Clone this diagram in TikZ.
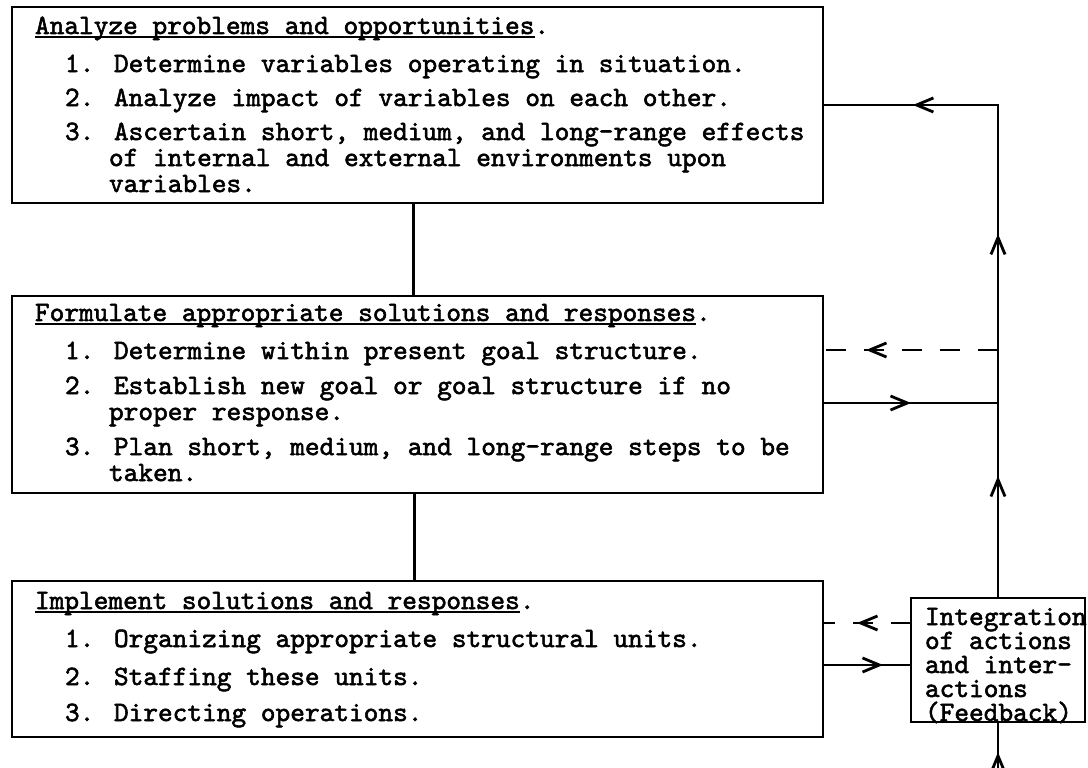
\documentclass[tikz,border=0pt]{standalone}
\usepackage{fontspec}
\newfontfamily\typefont{lmmono10-regular}[Extension=.otf,FakeBold=2.0]
\usetikzlibrary{arrows.meta,decorations.markings}

\newlength\px \setlength\px{0.025cm}
\newsavebox\headbox
\newcommand\headline[1]{\sbox\headbox{#1}\rlap{\rule[-4\px]{\wd\headbox}{2.2\px}}\usebox\headbox}
\newcommand\stagetext[4]{\parbox[c][#2\px][t]{#1\px}{\raggedright\leftskip=23\px\lineskiplimit=-100pt
  \rule{0pt}{#3\px}#4}}
\newcommand\itemline[2][9]{\\[#1\px]\hspace*{30\px}#2}
\newcommand\moreline[1]{\\\hspace*{74\px}#1}

\begin{document}
\begin{tikzpicture}[x=0.025cm,y=-0.025cm,
  stage/.style={draw,line width=1.8pt,inner sep=0pt,outer sep=0pt,anchor=north west,
    font=\fontsize{19.9}{18.5}\selectfont\typefont},
  link/.style={line width=1.8pt},
  back/.style={link,dash pattern=on 14pt off 13pt},
  fbarb/.tip={Straight Barb[length=12pt,width=10pt,line width=2pt]}]
\useasboundingbox (0,0) rectangle (1088,768);
% the three stages
\node [stage] (analyze) at (12,7) {\stagetext{811}{196}{27}{%
  \headline{Analyze problems and opportunities}.
  \itemline[12]{1. Determine variables operating in situation.}
  \itemline[8]{2. Analyze impact of variables on each other.}
  \itemline[8]{3. Ascertain short, medium, and long-range effects}
  \moreline{of internal and external environments upon}
  \moreline{variables.}}};
\node [stage] (formulate) at (12,296) {\stagetext{811}{197}{25}{%
  \headline{Formulate appropriate solutions and responses}.
  \itemline[12]{1. Determine within present goal structure.}
  \itemline{2. Establish new goal or goal structure if no}
  \moreline{proper response.}
  \itemline{3. Plan short, medium, and long-range steps to be}
  \moreline{taken.}}};
\node [stage] (implement) at (12,581) {\stagetext{811}{156}{28}{%
  \headline{Implement solutions and responses}.
  \itemline[12]{1. Organizing appropriate structural units.}
  \itemline[12]{2. Staffing these units.}
  \itemline[10]{3. Directing operations.}}};
% feedback box
\node [stage] (integration) at (911,598) {\parbox[c][124\px][t]{174\px}{%
  \leftskip=14\px\baselineskip=24\px\lineskiplimit=-100pt
  \rule{0pt}{27\px}Integration\\of actions\\and inter-\\actions\\(Feedback)}};

\coordinate (fbtop) at (integration.north |- analyze.east);
\coordinate (retB) at (integration.north |- 0,350);
\coordinate (outB) at (integration.north |- 0,403);
\coordinate (retC) at (integration.west |- 0,623);
\coordinate (outC) at (integration.west |- 0,665);
\coordinate (fbin) at (integration.south |- 0,775);

\draw [link] ([xshift=-4\px]analyze.south) -- ([xshift=-4\px]formulate.north);
\draw [link] ([xshift=-3\px]formulate.south) -- ([xshift=-3\px]implement.north);

% feedback loop
\draw [link,postaction=decorate,decoration={markings,
    mark=at position 3.05cm with {\arrow{fbarb}},
    mark=at position 9.1cm with {\arrow{fbarb}},
    mark=at position 14.45cm with {\arrow{fbarb}}}]
  (integration.north) -- (fbtop) -- (analyze.east);
\draw [link,postaction=decorate,decoration={markings,
    mark=at position 2.2cm with {\arrow{fbarb}}}]
  (outB -| formulate.east) -- (outB);
\draw [back,postaction=decorate,decoration={markings,
    mark=at position 3.3cm with {\arrow{fbarb}}}]
  (retB) -- (retB -| formulate.east);
\draw [link,postaction=decorate,decoration={markings,
    mark=at position 1.5cm with {\arrow{fbarb}}}]
  (outC -| implement.east) -- (outC);
\draw [back,postaction=decorate,decoration={markings,
    mark=at position 1.35cm with {\arrow{fbarb}}}]
  (retC) -- (retC -| implement.east);
\draw [link,postaction=decorate,decoration={markings,
    mark=at position 0.57cm with {\arrow{fbarb}}}]
  (fbin) -- (integration.south);
\end{tikzpicture}
\end{document}
